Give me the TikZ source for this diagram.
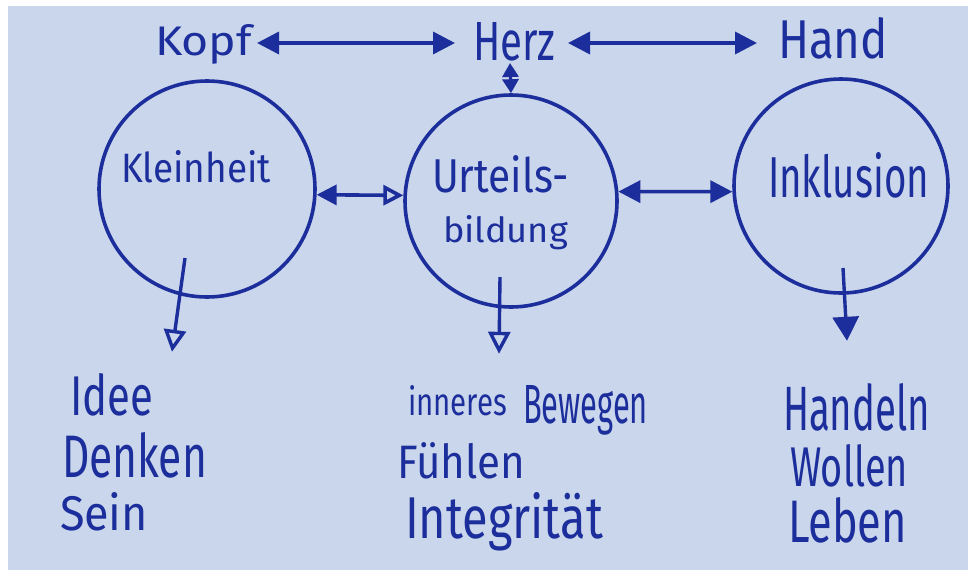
\documentclass[tikz,border=0pt]{standalone}
\usepackage{fontspec}
\setmainfont{Fira Sans}
\usepackage{graphicx}
\usetikzlibrary{arrows.meta,calc}
\definecolor{paper}{RGB}{202,214,236}
\definecolor{ink}{RGB}{28,46,155}
\newcommand{\hwtxt}[3]{\resizebox{#1pt}{#2pt}{#3}}
\tikzset{
  hw/.style={inner sep=0pt, outer sep=0pt, anchor=base west, text=ink},
  bubble/.style={circle, draw=ink, line width=3.6pt, inner sep=0pt},
  dbl/.style={draw=ink, line width=3.6pt, {Triangle[length=22pt,width=22pt]}-{Triangle[length=22pt,width=22pt]}},
  dblsmall/.style={draw=ink, line width=3.2pt, {Triangle[length=14pt,width=16pt]}-{Triangle[length=14pt,width=16pt]}},
  dblmix/.style={draw=ink, line width=3.6pt, {Triangle[length=20pt,width=20pt]}-{Triangle[open,length=20pt,width=20pt]}},
  downopen/.style={draw=ink, line width=3.4pt, -{Triangle[open,length=22pt,width=22pt]}},
  downfill/.style={draw=ink, line width=3.4pt, -{Triangle[length=24pt,width=26pt]}}
}
\begin{document}
\begin{tikzpicture}[x=1pt,y=-1pt]
\useasboundingbox (0,0) rectangle (968,570);
\fill[white] (0,0) rectangle (968,570);
\fill[paper] (8,6) rectangle (968,570);

% top words
\node[hw] (kopf) at (155,55) {\hwtxt{97}{31}{Kopf}};
\node[hw] (herz) at (473,60) {\hwtxt{82}{38}{Herz}};
\node[hw] (hand) at (778,58) {\hwtxt{110}{41}{Hand}};

% circles
\node[bubble, minimum size=216pt] (left) at (207,189) {};
\node[bubble, minimum size=212pt] (mid) at (511,201) {};
\node[bubble, minimum size=214pt] (right) at (841,186) {};

% circle labels
\node[hw] (kleinheit) at (121,182) {\hwtxt{150}{32}{Kleinheit}};
\node[hw] (urteils) at (432,192) {\hwtxt{137}{37}{Urteils-}};
\node[hw] (bildung) at (443,242) {\hwtxt{125}{27}{bildung}};
\node[hw] (inklusion) at (768,197) {\hwtxt{161}{45}{Inklusion}};

% lists
\node[hw] (idee) at (70,415) {\hwtxt{83}{42}{Idee}};
\node[hw] (denken) at (62,477) {\hwtxt{145}{45}{Denken}};
\node[hw] (sein) at (60,530) {\hwtxt{88}{38}{Sein}};
\node[hw] (inneres) at (408,415) {\hwtxt{99}{30}{inneres}};
\node[hw] (bewegen) at (523,423) {\hwtxt{125}{38}{Bewegen}};
\node[hw] (fuehlen) at (397,478) {\hwtxt{128}{36}{Fühlen}};
\node[hw] (integritaet) at (405,538) {\hwtxt{198}{46}{Integrität}};
\node[hw] (handeln) at (783,430) {\hwtxt{147}{47}{Handeln}};
\node[hw] (wollen) at (790,486) {\hwtxt{118}{42}{Wollen}};
\node[hw] (leben) at (788,542) {\hwtxt{119}{45}{Leben}};

% top connectors
\draw[dbl] ($(kopf.base east)+(5,-12)$) -- ($(herz.base west)+(-18,-17)$);
\draw[dbl] ($(herz.base east)+(13,-17)$) -- ($(hand.base west)+(-21,-15)$);
\draw[dblsmall] ($(herz.base west)+(37,3)$) -- (mid.north);

% circle connectors
\draw[dblmix] (left.-3) -- (mid.177);
\draw[dbl] (mid.5) -- (right.183);

% down arrows
\draw[downopen] ($(left.center)+(-22,69)$) -- ($(left.south)+(-35,53)$);
\draw[downopen] ($(mid.center)+(-11,76)$) -- ($(mid.south)+(-12,45)$);
\draw[downfill] ($(right.center)+(2,82)$) -- ($(right.south)+(6,46)$);
\end{tikzpicture}
\end{document}
